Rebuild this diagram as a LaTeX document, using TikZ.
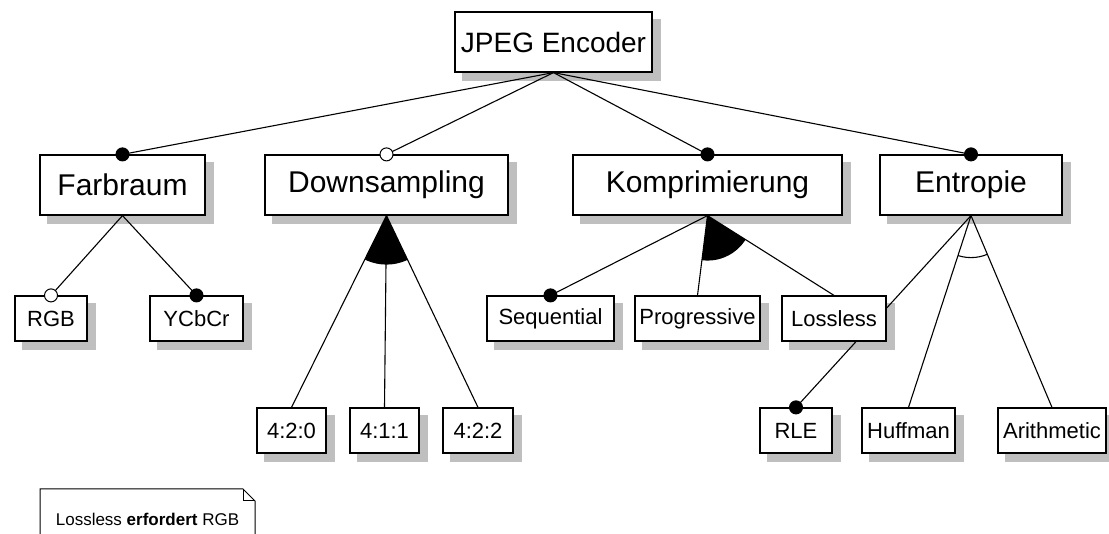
\documentclass[tikz,border=0pt]{standalone}
\usepackage{fontspec}
\setmainfont{Liberation Sans}
\usetikzlibrary{calc}
\pgfdeclarelayer{background}
\pgfsetlayers{background,main}
\begin{document}
\begin{tikzpicture}[x=1pt,y=-1pt,
  box/.style={draw=black, fill=white, line width=1.2pt, inner sep=0pt},
  big/.style={box, minimum height=60pt, font=\fontsize{30}{32}\selectfont},
  small/.style={box, minimum height=45pt, font=\fontsize{22}{24}\selectfont},
  link/.style={line width=1.1pt},
  fdot/.style={fill=black, draw=black, line width=1pt},
  odot/.style={fill=white, draw=black, line width=1pt},
  shadowc/.style={fill=black!25}
]
\useasboundingbox (0,0) rectangle (1109,534);
\clip (0,0) rectangle (1109,534);

% feature nodes
\node[big, minimum width=197pt, font=\fontsize{28}{30}\selectfont] (jpeg) at (553.5,42) {JPEG Encoder};
\node[big, minimum width=165pt] (farb) at (122.5,185) {Farbraum};
\node[big, minimum width=243pt] (down) at (386.5,185) {Downsampling};
\node[big, minimum width=269pt] (komp) at (707.5,185) {Komprimierung};
\node[big, minimum width=182pt] (entr) at (971,185) {Entropie};

\node[small, minimum width=72pt] (rgb) at (51,318.5) {RGB};
\node[small, minimum width=93pt] (ycbcr) at (196.5,318.5) {YCbCr};
\node[small, minimum width=127pt] (seq) at (550.5,318.5) {Sequential};
\node[small, minimum width=125pt] (prog) at (697.5,318.5) {Progressive};
\node[small, minimum width=104pt] (lossless) at (834,318.5) {Lossless};

\node[small, minimum width=69pt] (s420) at (291.5,430.5) {4:2:0};
\node[small, minimum width=69pt] (s411) at (384.5,430.5) {4:1:1};
\node[small, minimum width=70pt] (s422) at (478,430.5) {4:2:2};
\node[small, minimum width=72pt] (rle) at (796,430.5) {RLE};
\node[small, minimum width=93pt] (huff) at (908.5,430.5) {Huffman};
\node[small, minimum width=108pt] (arith) at (1052,430.5) {Arithmetic};

% note
\node[font=\fontsize{17}{20}\selectfont] (note) at (147.5,519) {Lossless \textbf{erfordert} RGB};
\coordinate (nA) at (40,545);
\coordinate (nB) at (40,489);
\coordinate (nC) at (243,489);
\coordinate (nD) at (255,501);
\coordinate (nE) at (255,545);
\draw[line width=1pt] (nA) -- (nB) -- (nC) -- (nD) -- (nE);
\draw[line width=1pt] (nC) -- (nC |- nD) -- (nD);

% shadows and hidden line
\begin{pgfonlayer}{background}
  \foreach \n in {jpeg,farb,down,komp,entr,rgb,ycbcr,seq,prog,lossless,s420,s411,s422,rle,huff,arith}{
    \fill[shadowc] ([xshift=8pt,yshift=-8pt]\n.south west) rectangle ([xshift=8pt,yshift=-8pt]\n.north east);
  }
  \draw[link] (entr.south) -- (rle.north);
\end{pgfonlayer}

% connectors
\foreach \c in {farb,down,komp,entr}{
  \draw[link] (jpeg.south) -- (\c.north);
}
\draw[link] (farb.south) -- (rgb.north);
\draw[link] (farb.south) -- (ycbcr.north);
\foreach \c in {s420,s411,s422}{ \draw[link] (down.south) -- (\c.north); }
\foreach \c in {seq,prog,lossless}{ \draw[link] (komp.south) -- (\c.north); }
\foreach \c in {huff,arith}{ \draw[link] (entr.south) -- (\c.north); }

% group markers
\begin{scope}
  \clip (down.south) circle (49pt);
  \fill (down.south) -- (s420.north) -- (s422.north) -- cycle;
\end{scope}
\begin{scope}
  \clip (komp.south) circle (45pt);
  \fill (komp.south) -- (prog.north) -- (lossless.north) -- cycle;
\end{scope}
\begin{scope}
  \clip (entr.south) -- (huff.north) -- (arith.north) -- cycle;
  \draw[link] (entr.south) circle (42pt);
\end{scope}

% mandatory / optional dots
\path[fdot] (farb.north) circle (6.5pt);
\path[odot] (down.north) circle (6.5pt);
\path[fdot] (komp.north) circle (6.5pt);
\path[fdot] (entr.north) circle (6.5pt);
\path[odot] (rgb.north) circle (6.5pt);
\path[fdot] (ycbcr.north) circle (6.5pt);
\path[fdot] (seq.north) circle (6.5pt);
\path[fdot] (rle.north) circle (6.5pt);
\end{tikzpicture}
\end{document}
